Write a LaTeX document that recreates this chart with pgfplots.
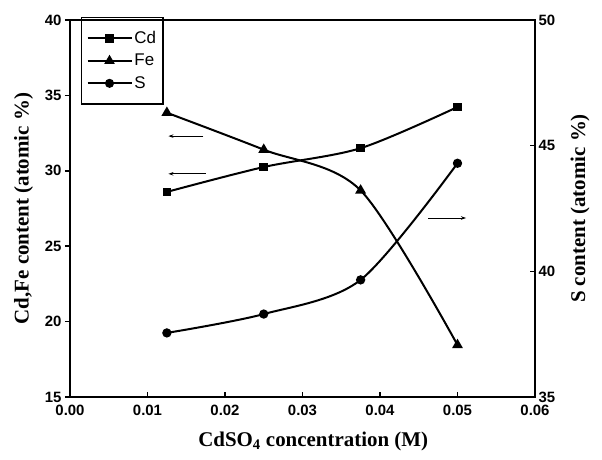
\documentclass[border=0pt]{standalone}
\usepackage{fontspec}
\setmainfont{Liberation Serif}
\setsansfont{Liberation Sans}
\usepackage{pgfplots}
\pgfplotsset{compat=1.18}
\usetikzlibrary{arrows.meta}
\begin{document}
\begin{tikzpicture}
\pgfplotsset{
  common/.style={
    scale only axis, width=465bp, height=377bp,
    xmin=0, xmax=0.06, axis line style={line width=2.2bp},
    major tick length=5bp,
    every tick/.style={line width=1.5bp, black},
    tick label style={font=\sffamily\bfseries\fontsize{15}{15}\selectfont},
    /pgf/number format/assume math mode=true,
    label style={font=\rmfamily\bfseries\fontsize{21}{21}\selectfont},
  },
  pl/.style={smooth, black, line width=2bp},
}
\begin{axis}[common, name=ax,
  ymin=15, ymax=40, ytick={15,20,...,40}, ytick pos=left, tick align=outside,
  xtick=\empty,
  ylabel={Cd,Fe content (atomic \%)},
  ylabel style={at={(axis description cs:-0.1,0.5)}, anchor=center},
  legend style={at={(rel axis cs:0.0237,1.008)}, anchor=north west,
    font=\sffamily\fontsize{17}{17}\selectfont, draw=black, line width=1.2bp,
    nodes={inner sep=2bp, text height=12.5bp, text depth=3bp},
    row sep=3bp, inner xsep=5bp, inner ysep=11bp, legend cell align=left},
  legend image code/.code={\draw[mark repeat=2,mark phase=2,#1, line width=1.8bp] plot coordinates {(0bp,0bp) (22bp,0bp) (44bp,0bp)};},
]
\addplot[pl, mark=square*, mark size=3.3bp] coordinates {
(0.0125,28.6) (0.025,30.25) (0.0375,31.5) (0.05,34.23)};
\addlegendentry{Cd}
\addplot[pl, mark=triangle*, mark size=4.3bp] coordinates {
(0.0125,33.85) (0.025,31.4) (0.0375,28.7) (0.05,18.45)};
\addlegendentry{Fe}
\addlegendimage{pl, mark=*, mark size=3.6bp}
\addlegendentry{S}
\draw[line width=0.8bp, -{Stealth[length=5bp,width=3.5bp]}] (axis cs:0.0172,32.3) -- (axis cs:0.0127,32.3);
\draw[line width=0.8bp, -{Stealth[length=5bp,width=3.5bp]}] (axis cs:0.0175,29.8) -- (axis cs:0.0127,29.8);
\draw[line width=0.8bp, -{Stealth[length=5bp,width=3.5bp]}] (axis cs:0.0462,26.87) -- (axis cs:0.0511,26.87);
\end{axis}
\begin{axis}[common,
  ymin=35, ymax=50, ytick={35,40,45,50}, ytick pos=right, yticklabel pos=right,
  tick align=inside,
  xtick={0,0.01,...,0.06}, xtick pos=bottom,
  xticklabel style={yshift=-5bp, /pgf/number format/.cd, fixed, fixed zerofill, precision=2},
  scaled x ticks=false,
  xlabel={CdSO\textsubscript{4} concentration (M)},
  xlabel style={at={(axis description cs:0.523,-0.119)}, anchor=center},
  ylabel={S content (atomic \%)},
  ylabel style={at={(axis description cs:1.097,0.5)}, anchor=center, rotate=0},
]
\addplot[pl, mark=*, mark size=3.6bp] coordinates {
(0.0125,37.55) (0.025,38.3) (0.0375,39.66) (0.05,44.3)};
\end{axis}
\pgfresetboundingbox
\path (ax.south west) ++(-70bp,-63bp) rectangle ++(602bp,460bp);
\end{tikzpicture}
\end{document}
